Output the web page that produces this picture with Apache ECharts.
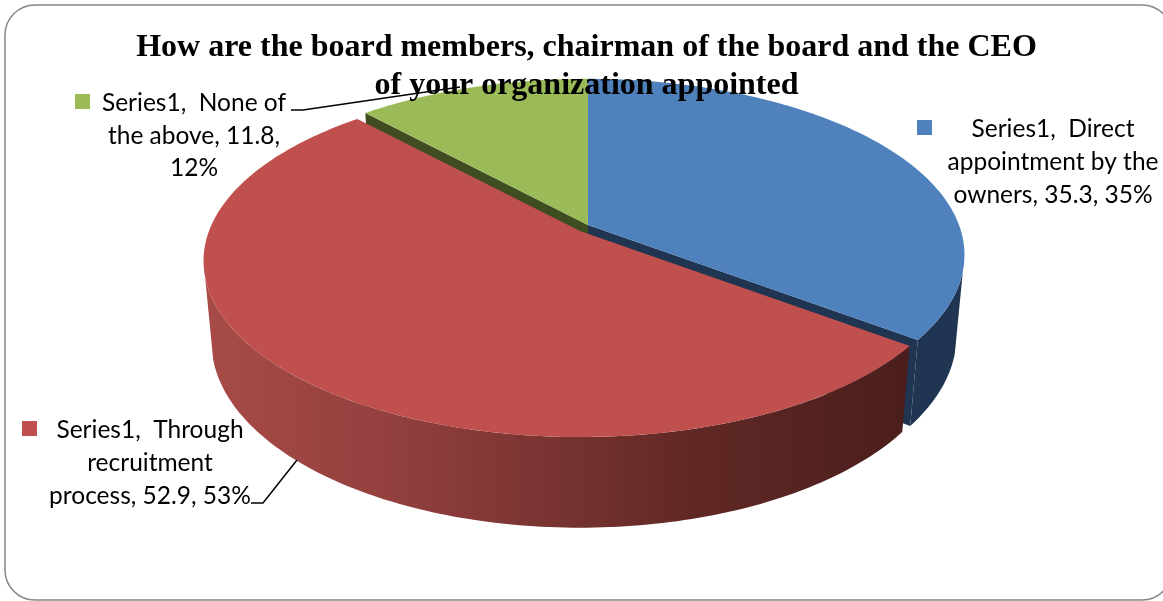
<!DOCTYPE html>
<html>
<head>
<meta charset="utf-8">
<style>
  html, body { margin: 0; padding: 0; background: #fff; overflow: hidden; }
  #chart { width: 1163px; height: 601px; }
</style>
</head>
<body>
<div id="chart"></div>
<script src="https://cdn.jsdelivr.net/npm/echarts@6/dist/echarts.min.js"></script>
<script>
var titleText = 'How are the board members, chairman of the board and the CEO\nof your organization appointed'
var categories = ['Direct appointment by the owners', 'Through recruitment process', 'None of the above']
var values = [35.3, 52.9, 11.8]
var percents = ['35%', '53%', '12%']
var seriesName = 'Series1'

var total = values.reduce(function (a, b) { return a + b }, 0)

// per slice look: top face, outer wall, explode offset, paint order
var topColors = ['#4f81bd', '#c0504d', '#9bbb59']
var wallColors = ['#1f3552', {
  type: 'linear', x: 0, y: 0, x2: 1, y2: 0,
  colorStops: [
    { offset: 0, color: '#a84b48' },
    { offset: 0.3, color: '#8f3e3c' },
    { offset: 0.7, color: '#602825' },
    { offset: 1, color: '#4a1e1c' }
  ]
}, '#3f4d20']
var apexes = [[588, 225], [580, 231], [588, 225]]
var paintOrder = [1, 3, 2]
// the wall only shows between these angles, past them the rim turns to the back
var wallFrom = 105, wallTo = 255

// perspective of the tilted disc
var A = 371, B = 171, D = 81.5, K = 0.17, M = 0.021

function project(apex, deg, r, depth) {
  var a = deg * Math.PI / 180
  var x = Math.sin(a) * r
  var y = -Math.cos(a) * r
  var w = 1 - K * y + M * depth
  return [apex[0] + A * x / w, apex[1] + (B * y + D * depth) / w]
}

function rim(apex, from, to, depth) {
  var pts = []
  var steps = Math.ceil(to - from)
  for (var i = 0; i <= steps; i++) {
    pts.push(project(apex, from + (to - from) * i / steps, 1, depth))
  }
  return pts
}

function renderSlice(params, api) {
  var i = params.dataIndex
  var before = 0
  for (var n = 0; n < i; n++) before += values[n]
  var from = before / total * 360
  var to = (before + api.value(0)) / total * 360
  var apex = apexes[i]
  var z = paintOrder[i]
  var children = []
  var wFrom = Math.max(from, wallFrom)
  var wTo = Math.min(to, wallTo)
  if (wTo > wFrom) {
    children.push({
      type: 'polygon', z2: z * 10,
      shape: { points: rim(apex, wFrom, wTo, 0).concat(rim(apex, wFrom, wTo, 1).reverse()) },
      style: { fill: wallColors[i] }
    })
  }
  // cut faces show as the thin dark strips next to the exploded red slice
  if (i !== 1) {
    ;[from, to].forEach(function (deg) {
      children.push({
        type: 'polygon', z2: z * 10 + 1,
        shape: { points: [project(apex, deg, 0, 0), project(apex, deg, 1, 0), project(apex, deg, 1, 1), project(apex, deg, 0, 1)] },
        style: { fill: wallColors[i] }
      })
    })
  }
  children.push({
    type: 'polygon', z2: z * 10 + 2,
    shape: { points: [project(apex, 0, 0, 0)].concat(rim(apex, from, to, 0)) },
    style: { fill: topColors[i] }
  })
  return { type: 'group', children: children }
}

var labelFont = '24.5px Lato, "Noto Sans", sans-serif'

function labelText(cx, y, text) {
  return { type: 'text', x: cx, y: y, silent: true, z: 20, style: { text: text, font: labelFont, fill: '#000', align: 'center', verticalAlign: 'middle' } }
}
function keySquare(x, y, color) {
  return { type: 'rect', silent: true, z: 20, shape: { x: x, y: y, width: 15, height: 15 }, style: { fill: color } }
}
function leader(points) {
  return { type: 'polyline', silent: true, z: 20, shape: { points: points }, style: { stroke: '#000', lineWidth: 1.5, fill: 'none' } }
}

var myChart = echarts.init(document.getElementById('chart'))
var option = {
  animation: false,
  title: {
    text: titleText,
    left: 581.5,
    top: 24,
    textAlign: 'center',
    z: 30,
    textStyle: { fontFamily: '"Liberation Serif", serif', fontWeight: 'bold', fontSize: 32, lineHeight: 38, color: '#000' }
  },
  series: [{
    type: 'custom',
    coordinateSystem: 'none',
    name: seriesName,
    silent: true,
    renderItem: renderSlice,
    data: values.map(function (v, i) { return { name: categories[i], value: [v] } })
  }],
  graphic: [
    { type: 'rect', silent: true, z: 0, shape: { x: 5, y: 5, width: 1167, height: 595, r: 30 }, style: { fill: 'none', stroke: '#868686', lineWidth: 1.5 } },

    keySquare(917, 120, topColors[0]),
    labelText(1053, 129, seriesName + ',  Direct'),
    labelText(1053, 162, 'appointment by the'),
    labelText(1053, 195, 'owners, ' + values[0] + ', ' + percents[0]),

    keySquare(22, 421, topColors[1]),
    labelText(150, 430, seriesName + ',  Through'),
    labelText(150, 463, 'recruitment'),
    labelText(150, 496, 'process, ' + values[1] + ', ' + percents[1]),
    leader([[251, 503], [263, 503], [297, 460]]),

    keySquare(75, 94, topColors[2]),
    labelText(194, 103, seriesName + ',  None of'),
    labelText(194, 136, 'the above, ' + values[2] + ','),
    labelText(194, 168, percents[2]),
    leader([[291, 110], [303, 110], [460, 87]])
  ]
}
myChart.setOption(option)
</script>
</body>
</html>
